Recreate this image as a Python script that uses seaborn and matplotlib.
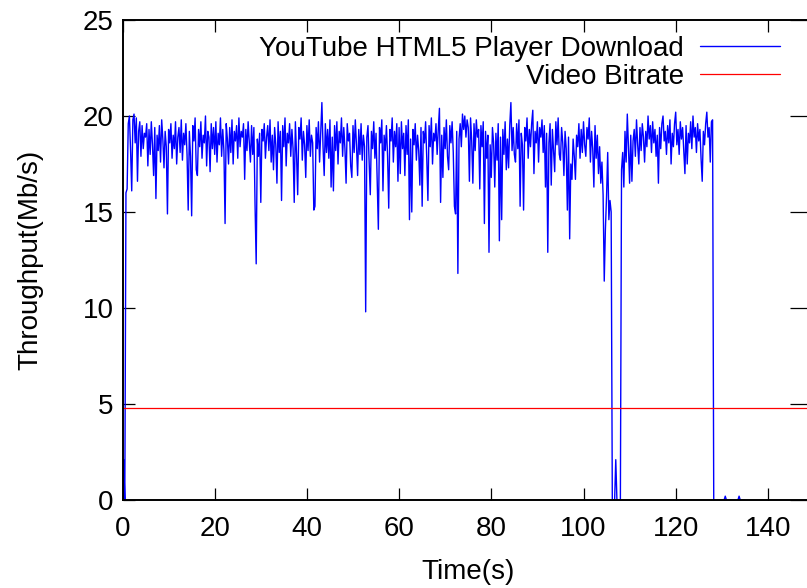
import numpy as np
import matplotlib
matplotlib.use("Agg")
import matplotlib.pyplot as plt
import seaborn as sns

# Download throughput sampled every 0.25 s (Mb/s)
sample_step = 0.25
throughput = [
    # 0 - 4.75 s
    0.0, 2.1, 0.0, 16.0, 16.2, 19.6, 20.0, 18.2, 16.1, 19.8, 20.1, 18.6, 19.9, 16.6, 19.2, 19.7, 17.9, 19.5, 18.3, 19.1,
    # 5 - 9.75 s
    18.9, 19.6, 17.4, 19.3, 18.0, 19.7, 18.5, 16.9, 19.4, 15.7, 19.0, 18.2, 19.5, 17.6, 19.8, 18.8, 17.3, 19.2, 18.4, 14.9,
    # 10 - 14.75 s
    19.3, 18.6, 19.6, 17.8, 19.0, 18.3, 19.7, 17.5, 18.9, 19.4, 18.1, 19.8, 17.7, 19.1, 18.5, 19.6, 18.0, 15.1, 19.2, 17.9,
    # 15 - 19.75 s
    14.8, 19.5, 18.7, 19.9, 17.2, 16.9, 19.3, 18.4, 19.7, 17.8, 19.0, 18.6, 20.0, 17.4, 19.2, 18.9, 17.1, 19.6, 18.3, 19.4,
    # 20 - 24.75 s
    18.0, 19.7, 17.6, 19.1, 18.5, 19.9, 17.9, 19.3, 18.2, 14.4, 19.6, 18.8, 17.5, 19.4, 18.1, 19.8, 17.5, 19.2, 18.7, 19.5,
    # 25 - 29.75 s
    17.8, 19.9, 18.4, 19.2, 18.9, 19.6, 16.7, 19.3, 18.2, 19.7, 18.6, 17.6, 19.5, 18.0, 19.4, 15.4, 12.3, 18.8, 17.9, 19.1,
    # 30 - 34.75 s
    15.5, 19.3, 18.7, 19.6, 17.8, 18.9, 19.5, 18.2, 19.8, 17.6, 19.0, 17.2, 19.4, 18.5, 16.5, 19.7, 18.1, 19.2, 15.6, 19.5,
    # 35 - 39.75 s
    18.4, 19.9, 17.4, 19.1, 18.6, 19.6, 17.9, 19.3, 18.3, 15.5, 19.7, 18.0, 15.9, 19.4, 18.8, 19.9, 17.7, 19.2, 18.5, 16.8,
    # 40 - 44.75 s
    19.5, 18.2, 19.8, 17.9, 19.0, 18.6, 15.1, 15.3, 19.4, 18.3, 19.7, 17.6, 19.1, 20.7, 18.4, 16.9, 19.6, 18.1, 19.3, 17.8,
    # 45 - 49.75 s
    19.8, 16.3, 18.9, 16.1, 19.5, 18.2, 19.7, 17.5, 19.2, 18.6, 19.9, 17.9, 19.4, 18.3, 16.5, 19.6, 18.7, 19.1, 17.4, 16.8,
    # 50 - 54.75 s
    19.5, 18.1, 19.8, 18.5, 16.9, 19.3, 18.0, 19.6, 17.7, 19.0, 18.4, 9.8, 18.9, 19.5, 17.6, 15.9, 19.2, 18.3, 19.7, 17.8,
    # 55 - 59.75 s
    19.1, 16.5, 14.1, 19.4, 18.6, 19.8, 16.1, 19.0, 18.2, 19.5, 17.9, 15.2, 19.3, 18.7, 19.9, 17.6, 19.2, 18.4, 19.6, 16.6,
    # 60 - 64.75 s
    19.4, 17.0, 19.7, 18.3, 19.1, 16.9, 19.5, 18.0, 19.8, 14.6, 18.8, 15.0, 19.3, 18.5, 19.6, 17.7, 19.0, 18.2, 16.4, 19.4,
    # 65 - 69.75 s
    15.3, 19.2, 18.6, 19.7, 17.8, 15.6, 19.5, 18.4, 19.9, 17.5, 19.1, 18.7, 19.6, 18.0, 19.3, 20.4, 15.5, 19.0, 16.8, 19.4,
    # 70 - 74.75 s
    18.3, 19.8, 17.9, 17.2, 19.5, 18.6, 19.7, 18.1, 15.3, 14.9, 19.2, 11.8, 18.8, 19.6, 18.4, 20.1, 19.3, 20.0, 18.9, 19.8,
    # 75 - 79.75 s
    19.4, 16.6, 19.9, 18.7, 16.5, 19.6, 18.2, 19.8, 18.9, 19.3, 16.2, 19.5, 18.4, 19.7, 14.4, 19.2, 17.8, 19.0, 12.9, 18.5,
    # 80 - 84.75 s
    16.8, 19.4, 18.6, 16.3, 19.1, 17.7, 19.6, 13.5, 18.9, 14.6, 19.3, 18.0, 19.7, 17.2, 18.8, 17.3, 19.5, 20.7, 18.2, 19.4,
    # 85 - 89.75 s
    18.0, 17.6, 19.6, 18.3, 19.8, 15.3, 19.1, 18.5, 15.1, 19.4, 18.7, 19.9, 17.8, 19.3, 18.4, 19.6, 20.3, 17.0, 19.2, 18.6,
    # 90 - 94.75 s
    19.7, 17.6, 19.4, 18.9, 19.8, 18.1, 19.5, 16.3, 19.1, 12.9, 18.6, 19.6, 16.4, 19.3, 18.2, 17.1, 19.7, 18.5, 19.9, 18.0,
    # 95 - 99.75 s
    17.7, 19.4, 18.6, 16.9, 19.2, 18.3, 15.1, 18.9, 13.6, 17.5, 16.7, 18.8, 17.9, 16.7, 19.0, 18.4, 19.6, 17.8, 19.3, 18.1,
    # 100 - 104.75 s
    19.7, 18.5, 17.9, 19.4, 18.8, 19.9, 17.6, 19.2, 18.3, 16.3, 19.5, 17.8, 19.0, 17.0, 18.4, 16.5, 17.6, 15.9, 11.4, 14.1,
    # 105 - 109.75 s
    15.8, 18.1, 14.6, 15.6, 15.0, 0.0, 0.0, 0.0, 2.1, 0.0, 0.0, 0.0, 0.0, 17.2, 18.1, 16.3, 19.2, 17.6, 20.1, 18.4,
    # 110 - 114.75 s
    16.5, 19.0, 16.6, 18.7, 19.3, 17.9, 19.8, 18.5, 17.5, 19.4, 18.2, 19.6, 18.9, 17.6, 19.2, 18.4, 20.0, 18.8, 19.5, 18.1,
    # 115 - 119.75 s
    19.7, 18.6, 19.3, 17.9, 19.0, 16.5, 19.4, 18.3, 19.6, 20.0, 18.7, 19.2, 18.0, 19.5, 18.6, 19.8, 17.5, 19.1, 18.4, 19.6,
    # 120 - 124.75 s
    20.2, 18.5, 19.3, 18.0, 19.7, 18.8, 19.4, 18.2, 17.0, 19.5, 17.5, 19.1, 18.6, 19.7, 18.3, 20.0, 18.9, 19.4, 18.1, 19.6,
    # 125 - 129.75 s
    18.7, 19.3, 17.8, 16.6, 19.2, 18.5, 19.6, 20.2, 18.9, 19.4, 17.6, 19.7, 19.8, 0.0, 0.0, 0.0, 0.0, 0.0, 0.0, 0.0,
    # 130 - 135 s
    0.0, 0.0, 0.0, 0.2, 0.0, 0.0, 0.0, 0.0, 0.0, 0.0, 0.0, 0.0, 0.0, 0.0, 0.0, 0.2, 0.0, 0.0, 0.0, 0.0, 0.0,
]
time_s = np.arange(len(throughput)) * sample_step

video_bitrate = 4.8  # Mb/s

x_ticks = [0, 20, 40, 60, 80, 100, 120, 140]
y_ticks = [0, 5, 10, 15, 20, 25]

FS = 20

sns.set_style("ticks")
plt.rcParams["font.family"] = ["Liberation Sans", "DejaVu Sans"]
plt.rcParams["font.size"] = FS
plt.rcParams["text.color"] = "black"
plt.rcParams["axes.labelcolor"] = "black"
plt.rcParams["xtick.color"] = "black"
plt.rcParams["ytick.color"] = "black"

W, H = 807, 588
fig = plt.figure(figsize=(W / 100, H / 100), dpi=100)
left_px, right_px, top_px, bottom_px = 122.5, 814.0, 20.0, 500.0
ax = fig.add_axes([left_px / W, 1 - bottom_px / H,
                   (right_px - left_px) / W, (bottom_px - top_px) / H])

sns.lineplot(x=time_s, y=throughput, ax=ax, color="#0000ff", linewidth=1.0,
             estimator=None, sort=False, label="YouTube HTML5 Player Download")
ax.axhline(video_bitrate, color="#ff0000", linewidth=0.9, label="Video Bitrate")

ax.set_xlim(0, 150)
ax.set_ylim(0, 25)
ax.set_xticks(x_ticks)
ax.set_yticks(y_ticks)
ax.set_xlabel("Time(s)", fontsize=FS, labelpad=12, color="black")
ax.set_ylabel("Throughput(Mb/s)", fontsize=FS, labelpad=28, color="black")

for side in ["left", "right", "top", "bottom"]:
    ax.spines[side].set_visible(True)
    ax.spines[side].set_linewidth(1.4)
    ax.spines[side].set_color("black")
    ax.spines[side].set_zorder(5)

tick_len = 12 * 0.72
ax.tick_params(axis="both", which="major", direction="in", length=tick_len,
               width=0.9, color="black", labelcolor="black", labelsize=FS,
               top=True, right=True)
ax.tick_params(axis="x", pad=11.5)
ax.tick_params(axis="y", pad=6.5)
for t in ax.yaxis.get_major_ticks():
    t.tick2line.set_markersize(24 * 0.72)

fs_px = FS * 100 / 72
leg = ax.legend(loc="upper right", bbox_to_anchor=(780 / W, 1 - 35.5 / H),
                bbox_transform=fig.transFigure, frameon=False,
                markerfirst=False, borderpad=0, borderaxespad=0,
                handlelength=80 / fs_px, handletextpad=16 / fs_px,
                labelspacing=0.08, fontsize=FS)
for txt in leg.get_texts():
    txt.set_color("black")

fig.savefig("out.png", dpi=100)
